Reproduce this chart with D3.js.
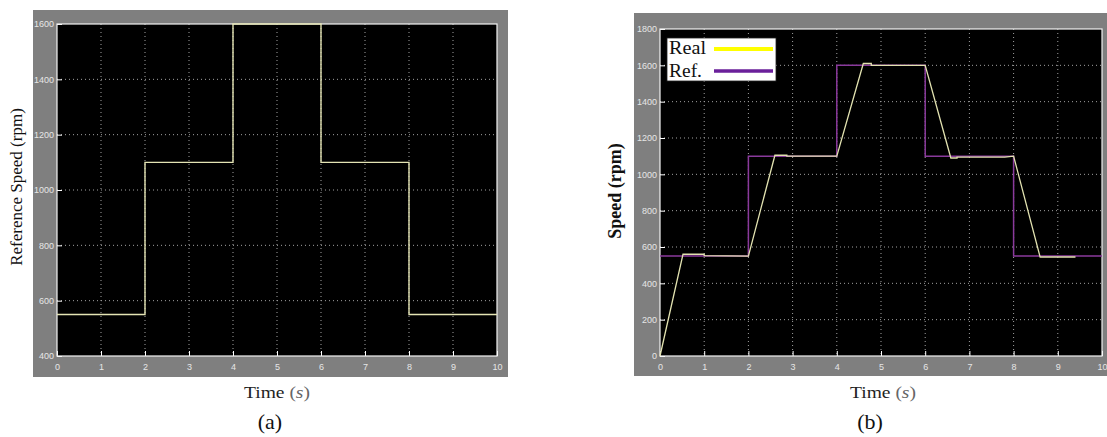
<!DOCTYPE html>
<html>
<head>
<meta charset="utf-8">
<script src="https://cdn.jsdelivr.net/npm/d3@7"></script>
<style>
  html, body { margin: 0; padding: 0; background: #fff; }
  svg { display: block; }
  .tick text { font-family: "Liberation Sans", Arial, sans-serif; }
</style>
</head>
<body>
<svg id="fig" width="1107" height="437"></svg>
<script>
// ---- data ----
const timeTicks = [0, 1, 2, 3, 4, 5, 6, 7, 8, 9, 10];
const refTicksA = [400, 600, 800, 1000, 1200, 1400, 1600];
const speedTicksB = [0, 200, 400, 600, 800, 1000, 1200, 1400, 1600, 1800];

// reference speed profile (step changes), time in s, speed in rpm
const refTime  = [0, 2, 2, 4, 4, 6, 6, 8, 8, 10];
const refSpeed = [550, 550, 1100, 1100, 1600, 1600, 1100, 1100, 550, 550];

// measured speed (b)
const realTime  = [0, 0.52, 1.0, 1.0, 2.0, 2.6, 2.87, 2.87, 4.0, 4.6, 4.78, 4.78, 6.0, 6.58, 6.72, 6.72, 7.8, 8.0, 8.6, 9.4];
const realSpeed = [0, 560, 560, 552, 550, 1105, 1105, 1100, 1100, 1610, 1610, 1600, 1600, 1090, 1090, 1095, 1095, 1100, 545, 545];

const svg = d3.select("#fig");
const serif = "'Liberation Serif', 'Times New Roman', serif";

function panel(cfg) {
  const g = svg.append("g");
  // grey figure frame
  g.append("rect")
    .attr("x", cfg.frame[0]).attr("y", cfg.frame[1])
    .attr("width", cfg.frame[2]).attr("height", cfg.frame[3])
    .attr("fill", "#7f7f7f");

  const x = d3.scaleLinear().domain([0, 10]).range([cfg.left, cfg.right]);
  const y = d3.scaleLinear().domain(cfg.yDomain).range([cfg.bottom, cfg.top]);

  // black plot area
  g.append("rect")
    .attr("x", cfg.left).attr("y", cfg.top)
    .attr("width", cfg.right - cfg.left).attr("height", cfg.bottom - cfg.top)
    .attr("fill", "#000");

  // dotted grid
  const grid = g.append("g").attr("stroke", "#d8d8d8").attr("stroke-width", 1)
    .attr("stroke-dasharray", "1,3").attr("opacity", 0.75);
  grid.selectAll("line.v").data(timeTicks.slice(1, -1)).join("line")
    .attr("x1", d => x(d)).attr("x2", d => x(d))
    .attr("y1", cfg.top).attr("y2", cfg.bottom);
  grid.selectAll("line.h").data(cfg.yTicks.slice(1, -1)).join("line")
    .attr("x1", cfg.left).attr("x2", cfg.right)
    .attr("y1", d => y(d)).attr("y2", d => y(d));

  // axes
  const fmt = d3.format("d");
  const xAxis = d3.axisBottom(x).tickValues(timeTicks).tickFormat(fmt)
    .tickSizeInner(-5).tickSizeOuter(0).tickPadding(8);
  const yAxis = d3.axisLeft(y).tickValues(cfg.yTicks).tickFormat(fmt)
    .tickSizeInner(-5).tickSizeOuter(0).tickPadding(3);
  const gx = g.append("g").attr("transform", `translate(0,${cfg.bottom})`).call(xAxis);
  const gy = g.append("g").attr("transform", `translate(${cfg.left},0)`).call(yAxis);
  [gx, gy].forEach(a => {
    a.select(".domain").remove();
    a.selectAll(".tick line").attr("stroke", "#fff");
    a.selectAll(".tick text").attr("fill", "#e6e6e6").attr("font-size", 9);
  });
  gy.selectAll(".tick text").attr("dy", "0.32em");

  // plot border
  g.append("rect")
    .attr("x", cfg.left).attr("y", cfg.top)
    .attr("width", cfg.right - cfg.left).attr("height", cfg.bottom - cfg.top)
    .attr("fill", "none").attr("stroke", "#f4f4f4").attr("stroke-width", 1.2);

  // titles
  g.append("text")
    .attr("transform", `translate(${cfg.yLabelX},${cfg.yLabelY}) rotate(-90)`)
    .attr("text-anchor", "middle").attr("font-family", serif).attr("font-size", cfg.yLabelSize)
    .attr("font-weight", cfg.yLabelBold ? "bold" : "normal")
    .attr("fill", "#111").text(cfg.yLabel);

  const t = g.append("text")
    .attr("x", cfg.timeX).attr("y", 398).attr("text-anchor", "middle")
    .attr("font-family", serif).attr("font-size", 17).attr("fill", "#222")
    .attr("textLength", 66).attr("lengthAdjust", "spacingAndGlyphs");
  t.append("tspan").text("Time ");
  t.append("tspan").attr("fill", "#666").text("(");
  t.append("tspan").attr("fill", "#666").attr("font-style", "italic").text("s");
  t.append("tspan").attr("fill", "#666").text(")");

  g.append("text")
    .attr("x", cfg.capX).attr("y", 429).attr("text-anchor", "middle")
    .attr("font-family", serif).attr("font-size", 22).attr("fill", "#111")
    .text(cfg.caption);

  return { g, x, y };
}

// ---- (a) reference speed ----
const A = panel({
  frame: [33, 10, 475, 367],
  left: 57, right: 497, top: 24, bottom: 356,
  yDomain: [400, 1600], yTicks: refTicksA,
  yLabel: "Reference Speed (rpm)", yLabelX: 22, yLabelY: 187, yLabelSize: 17,
  timeX: 277, capX: 270, caption: "(a)"
});
const lineA = d3.line().x((d, i) => A.x(refTime[i])).y((d, i) => A.y(refSpeed[i]));
A.g.append("path").datum(refSpeed).attr("d", lineA)
  .attr("fill", "none").attr("stroke", "#e4e4b4").attr("stroke-width", 1.4);

// ---- (b) real vs reference speed ----
const B = panel({
  frame: [634, 13, 473, 363],
  left: 660, right: 1102, top: 29, bottom: 356,
  yDomain: [0, 1800], yTicks: speedTicksB,
  yLabel: "Speed (rpm)", yLabelX: 621, yLabelY: 191, yLabelSize: 18, yLabelBold: true,
  timeX: 883, capX: 870, caption: "(b)"
});
const lineRef = d3.line().x((d, i) => B.x(refTime[i])).y((d, i) => B.y(refSpeed[i]));
B.g.append("path").datum(refSpeed).attr("d", lineRef)
  .attr("fill", "none").attr("stroke", "#8a3a9c").attr("stroke-width", 1.5);
const lineReal = d3.line().x((d, i) => B.x(realTime[i])).y((d, i) => B.y(realSpeed[i]));
B.g.append("path").datum(realSpeed).attr("d", lineReal)
  .attr("fill", "none").attr("stroke", "#e2e2b0").attr("stroke-width", 1.3);

// legend
const lg = B.g.append("g");
lg.append("rect").attr("x", 667).attr("y", 38).attr("width", 109).attr("height", 43)
  .attr("fill", "#fff").attr("stroke", "#222").attr("stroke-width", 0.8);
const legendItems = [
  { name: "Real", color: "#ffff00", w: 4, ty: 54, ly: 49, len: 37 },
  { name: "Ref.", color: "#6a1f9a", w: 3.5, ty: 77, ly: 71, len: 33 }
];
legendItems.forEach(it => {
  lg.append("text").attr("x", 669).attr("y", it.ty)
    .attr("font-family", serif).attr("font-size", 18).attr("fill", "#111")
    .attr("textLength", it.len).attr("lengthAdjust", "spacingAndGlyphs").text(it.name);
  lg.append("line").attr("x1", 714).attr("x2", 773).attr("y1", it.ly).attr("y2", it.ly)
    .attr("stroke", it.color).attr("stroke-width", it.w);
});
</script>
</body>
</html>
